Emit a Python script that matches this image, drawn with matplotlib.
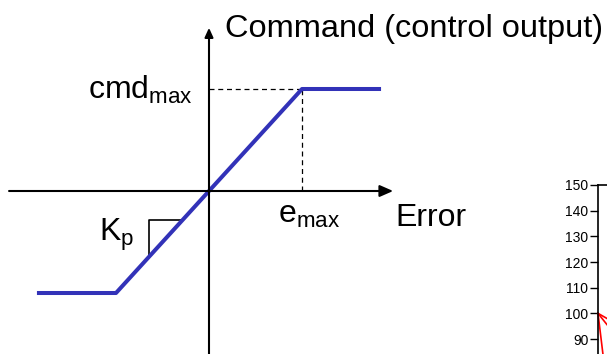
import matplotlib
matplotlib.use("Agg")
from matplotlib import pyplot as plt

plt.rcParams['font.family'] = 'Liberation Sans'
plt.rcParams['mathtext.fontset'] = 'custom'
plt.rcParams['mathtext.rm'] = 'Liberation Sans'

# saturation curve (error -> command), e_max = cmd_max = 1
error = [-1.85, -1.0, 1.0, 1.85]
command = [-1.0, -1.0, 1.0, 1.0]
e_max = 1.0
cmd_max = 1.0

# little slope triangle next to the line
kp_x = [-0.28, -0.645, -0.645]
kp_y = [-0.28, -0.28, -0.645]

# partial chart at the right edge
ticks_right = [90, 100, 110, 120, 130, 140, 150]
red_x = [[0, 0.074], [0, 0.074], [0, 0.041]]
red_y = [[100, 98.0], [100, 95.6], [100, 84.0]]

fig = plt.figure(figsize=(6.07, 3.54), dpi=100)
ax = fig.add_axes([0, 0, 1, 1])
ax.set_xlim(-2.2473, 4.2796)
ax.set_ylim(-1.598, 1.8725)
ax.axis('off')

blue = '#3232B8'

# axes with arrows
ax.annotate('', xy=(1.98, 0), xytext=(-2.15, 0),
            arrowprops=dict(arrowstyle='-|>,head_length=0.8,head_width=0.35',
                            lw=1.5, color='k', shrinkA=0, shrinkB=0))
ax.annotate('', xy=(0, 1.6), xytext=(0, -1.6),
            arrowprops=dict(arrowstyle='-|>,head_length=0.55,head_width=0.25',
                            lw=1.5, color='k', shrinkA=0, shrinkB=0))

# dashed guides
ax.plot([0, e_max], [cmd_max, cmd_max], color='k', lw=0.9, dashes=(4, 3))
ax.plot([e_max, e_max], [0, cmd_max], color='k', lw=0.9, dashes=(4, 3))

ax.plot(kp_x, kp_y, color='k', lw=1.2)
ax.plot(error, command, color=blue, lw=2.9, solid_capstyle='butt')

ax.text(0.172, 1.51, 'Command (control output)', fontsize=23.4, ha='left', va='baseline')
ax.text(-0.172, 0.902, r'$\mathregular{cmd_{max}}$', fontsize=23, ha='right', va='baseline')
ax.text(0.742, -0.314, r'$\mathregular{e_{max}}$', fontsize=23, ha='left', va='baseline')
ax.text(2.0, -0.343, 'Error', fontsize=23, ha='left', va='baseline')
ax.text(-1.183, -0.49, r'$\mathregular{K_p}$', fontsize=23, ha='left', va='baseline')

# right chart, mostly cut off
ax2 = fig.add_axes([598 / 607, 0, 0.2, (354 - 185) / 354])
ax2.set_ylim(84.16, 150)
ax2.set_xlim(0, 1)
ax2.set_yticks(ticks_right)
ax2.set_xticks([])
ax2.spines['right'].set_visible(False)
ax2.spines['bottom'].set_visible(False)
ax2.spines['left'].set_linewidth(1.2)
ax2.spines['top'].set_linewidth(1.2)
ax2.tick_params(axis='y', direction='out', length=6, width=1.0, pad=1, labelsize=10)
for xs, ys in zip(red_x, red_y):
    ax2.plot(xs, ys, color='red', lw=1.2, clip_on=False)

fig.savefig('out.png', dpi=100)
